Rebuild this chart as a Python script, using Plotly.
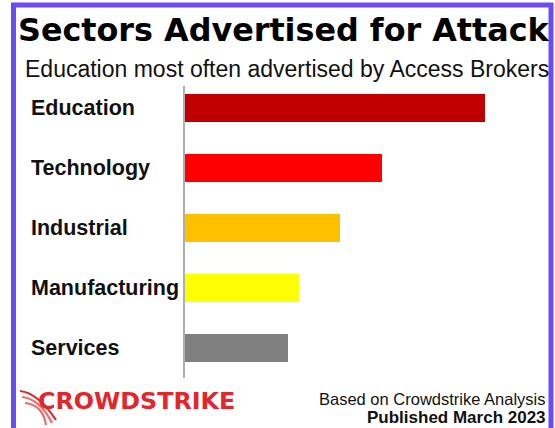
import plotly.graph_objects as go

# ---- data ----
sectors = ["Education", "Technology", "Industrial", "Manufacturing", "Services"]
values = [29, 19, 15, 11, 10]
bar_colors = ["#c00000", "#ff0000", "#ffc000", "#ffff00", "#808080"]
title_text = "Sectors Advertised for Attack"
subtitle_text = "Education most often advertised by Access Brokers"
source_text = "Based on Crowdstrike Analysis"
published_text = "Published March 2023"
logo_text = "CROWDSTRIKE"

# ---- layout geometry (pixels) ----
W, H = 555, 428
ML, MR, MT, MB = 185, 39, 86, 50
PW = W - ML - MR
PH = H - MT - MB


def px_x(px):
    return (px - ML) / PW


def px_y(py):
    return (H - MB - py) / PH


fig = go.Figure()
fig.add_trace(go.Bar(
    y=sectors, x=values, orientation="h",
    marker=dict(color=bar_colors, line=dict(width=0)),
    width=0.467, hoverinfo="x+y",
))

annotations = []
# category labels (left aligned)
for s in sectors:
    annotations.append(dict(
        x=px_x(28.5), xref="paper", y=s, yref="y", xanchor="left", yanchor="middle",
        text=f"<b>{s}</b>", showarrow=False,
        font=dict(family="Liberation Sans, Arial", size=21.5, color="#111111"),
    ))

# title and subtitle
annotations.append(dict(
    x=px_x(284), xref="paper", y=px_y(30), yref="paper", xanchor="center", yanchor="middle",
    text=f"<b>{title_text}</b>", showarrow=False,
    font=dict(family="DejaVu Sans", size=31.8, color="#000000"),
))
annotations.append(dict(
    x=px_x(287), xref="paper", y=px_y(69), yref="paper", xanchor="center", yanchor="middle",
    text=subtitle_text, showarrow=False,
    font=dict(family="Liberation Sans, Arial", size=23, color="#111111"),
))
# footer
annotations.append(dict(
    x=px_x(548), xref="paper", y=px_y(399), yref="paper", xanchor="right", yanchor="middle",
    text=source_text, showarrow=False,
    font=dict(family="Liberation Sans, Arial", size=16.5, color="#111111"),
))
annotations.append(dict(
    x=px_x(548), xref="paper", y=px_y(417), yref="paper", xanchor="right", yanchor="middle",
    text=f"<b>{published_text}</b>", showarrow=False,
    font=dict(family="Liberation Sans, Arial", size=17, color="#111111"),
))
# logo wordmark
annotations.append(dict(
    x=px_x(36), xref="paper", y=px_y(401), yref="paper", xanchor="left", yanchor="middle",
    text=f"<b>{logo_text}</b>", showarrow=False,
    font=dict(family="DejaVu Sans", size=23.8, color="#e3262b"),
))

shapes = []
# purple frame (bottom edge lies outside the picture)
shapes.append(dict(
    type="rect", xref="paper", yref="paper",
    x0=px_x(13.5), x1=px_x(551), y0=px_y(5), y1=px_y(460),
    line=dict(color="#6b4cf3", width=5), fillcolor="rgba(0,0,0,0)", layer="above",
))
# logo claw swooshes
for i, (sx, sy, ex, ey) in enumerate([(20, 391, 56, 420), (22, 397, 52, 423), (25, 403, 46, 425)]):
    cx, cy = sx + 18, sy + 2
    path = (f"M {px_x(sx)},{px_y(sy)} Q {px_x(cx)},{px_y(cy)} {px_x(ex)},{px_y(ey)}")
    shapes.append(dict(
        type="path", xref="paper", yref="paper", path=path,
        line=dict(color="#e3262b" if i == 0 else "#ea6a6e", width=2.2), layer="above",
    ))

fig.update_layout(
    width=W, height=H,
    margin=dict(l=ML, r=MR, t=MT, b=MB, pad=0),
    paper_bgcolor="white", plot_bgcolor="white",
    showlegend=False,
    xaxis=dict(visible=False, range=[0, 32], fixedrange=True),
    yaxis=dict(
        type="category", categoryorder="array", categoryarray=sectors,
        range=[4.5, -0.367], showticklabels=False, ticks="",
        showgrid=False, zeroline=False,
        showline=True, linecolor="#b0b0b0", linewidth=1.5, fixedrange=True,
    ),
    annotations=annotations,
    shapes=shapes,
    bargap=0,
)

fig.write_html(
    "out.html",
    config={"displayModeBar": False},
    post_script="document.body.style.margin='0';document.body.style.overflow='hidden';",
)
